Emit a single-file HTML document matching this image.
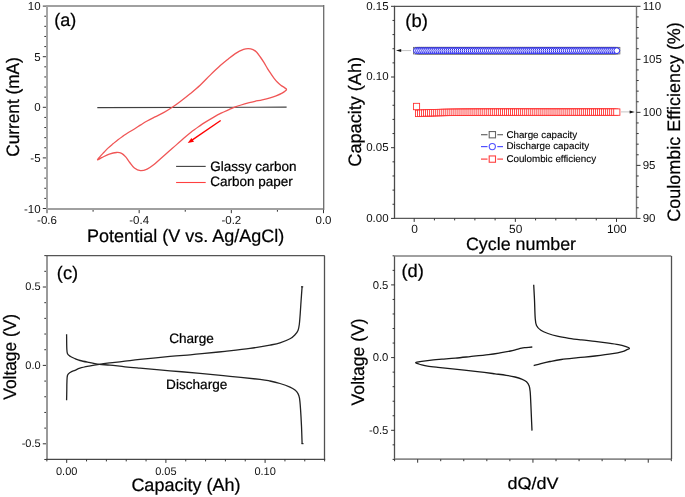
<!DOCTYPE html>
<html><head><meta charset="utf-8"><style>
html,body{margin:0;padding:0;background:#fff;}
body{width:685px;height:497px;overflow:hidden;}
svg{display:block;will-change:transform;}
text{font-family:"Liberation Sans",sans-serif;fill:#111;text-rendering:geometricPrecision;}
text.b{fill:#000;stroke:#000;stroke-width:0.22px;}
text.m{fill:#000;stroke:#000;stroke-width:0.12px;}
</style></head><body>
<svg width="685" height="497" viewBox="0 0 685 497">
<rect width="685" height="497" fill="#fff"/>
<line x1="47.00" y1="6.00" x2="47.00" y2="210.00" stroke="#a6a6a6" stroke-width="2.00"/>
<line x1="46.00" y1="6.00" x2="323.50" y2="6.00" stroke="#a0a0a0" stroke-width="2.00"/>
<line x1="46.00" y1="209.00" x2="323.50" y2="209.00" stroke="#a0a0a0" stroke-width="2.00"/>
<line x1="323.70" y1="5.00" x2="323.70" y2="210.00" stroke="#6a6a6a" stroke-width="1.30"/>
<line x1="42.80" y1="208.50" x2="46.00" y2="208.50" stroke="#333" stroke-width="1.00"/>
<text x="40.60" y="212.60" font-size="11.50" text-anchor="end">-10</text>
<line x1="44.30" y1="198.38" x2="46.00" y2="198.38" stroke="#333" stroke-width="1.00"/>
<line x1="44.30" y1="188.26" x2="46.00" y2="188.26" stroke="#333" stroke-width="1.00"/>
<line x1="44.30" y1="178.14" x2="46.00" y2="178.14" stroke="#333" stroke-width="1.00"/>
<line x1="44.30" y1="168.02" x2="46.00" y2="168.02" stroke="#333" stroke-width="1.00"/>
<line x1="42.80" y1="157.90" x2="46.00" y2="157.90" stroke="#333" stroke-width="1.00"/>
<text x="40.60" y="162.00" font-size="11.50" text-anchor="end">-5</text>
<line x1="44.30" y1="147.78" x2="46.00" y2="147.78" stroke="#333" stroke-width="1.00"/>
<line x1="44.30" y1="137.66" x2="46.00" y2="137.66" stroke="#333" stroke-width="1.00"/>
<line x1="44.30" y1="127.54" x2="46.00" y2="127.54" stroke="#333" stroke-width="1.00"/>
<line x1="44.30" y1="117.42" x2="46.00" y2="117.42" stroke="#333" stroke-width="1.00"/>
<line x1="42.80" y1="107.30" x2="46.00" y2="107.30" stroke="#333" stroke-width="1.00"/>
<text x="40.60" y="111.40" font-size="11.50" text-anchor="end">0</text>
<line x1="44.30" y1="97.18" x2="46.00" y2="97.18" stroke="#333" stroke-width="1.00"/>
<line x1="44.30" y1="87.06" x2="46.00" y2="87.06" stroke="#333" stroke-width="1.00"/>
<line x1="44.30" y1="76.94" x2="46.00" y2="76.94" stroke="#333" stroke-width="1.00"/>
<line x1="44.30" y1="66.82" x2="46.00" y2="66.82" stroke="#333" stroke-width="1.00"/>
<line x1="42.80" y1="56.70" x2="46.00" y2="56.70" stroke="#333" stroke-width="1.00"/>
<text x="40.60" y="60.80" font-size="11.50" text-anchor="end">5</text>
<line x1="44.30" y1="46.58" x2="46.00" y2="46.58" stroke="#333" stroke-width="1.00"/>
<line x1="44.30" y1="36.46" x2="46.00" y2="36.46" stroke="#333" stroke-width="1.00"/>
<line x1="44.30" y1="26.34" x2="46.00" y2="26.34" stroke="#333" stroke-width="1.00"/>
<line x1="44.30" y1="16.22" x2="46.00" y2="16.22" stroke="#333" stroke-width="1.00"/>
<line x1="42.80" y1="6.10" x2="46.00" y2="6.10" stroke="#333" stroke-width="1.00"/>
<text x="40.60" y="10.20" font-size="11.50" text-anchor="end">10</text>
<line x1="47.00" y1="210.00" x2="47.00" y2="213.20" stroke="#333" stroke-width="1.00"/>
<text x="47.00" y="223.90" font-size="11.50" text-anchor="middle">-0.6</text>
<line x1="93.08" y1="210.00" x2="93.08" y2="211.70" stroke="#333" stroke-width="1.00"/>
<line x1="139.17" y1="210.00" x2="139.17" y2="213.20" stroke="#333" stroke-width="1.00"/>
<text x="139.17" y="223.90" font-size="11.50" text-anchor="middle">-0.4</text>
<line x1="185.25" y1="210.00" x2="185.25" y2="211.70" stroke="#333" stroke-width="1.00"/>
<line x1="231.33" y1="210.00" x2="231.33" y2="213.20" stroke="#333" stroke-width="1.00"/>
<text x="231.33" y="223.90" font-size="11.50" text-anchor="middle">-0.2</text>
<line x1="277.42" y1="210.00" x2="277.42" y2="211.70" stroke="#333" stroke-width="1.00"/>
<line x1="323.50" y1="210.00" x2="323.50" y2="213.20" stroke="#333" stroke-width="1.00"/>
<text x="323.50" y="223.90" font-size="11.50" text-anchor="middle">0.0</text>
<text x="54.20" y="26.00" font-size="18.00" text-anchor="start" class="b">(a)</text>
<text class="b" transform="translate(18.80 107.00) rotate(-90)" x="0" y="0" font-size="18.00" text-anchor="middle" textLength="99.5" lengthAdjust="spacingAndGlyphs">Current (mA)</text>
<text x="185.65" y="242.40" font-size="18.00" text-anchor="middle" class="b">Potential (V vs. Ag/AgCl)</text>
<line x1="97.30" y1="107.60" x2="286.60" y2="107.10" stroke="#404040" stroke-width="1.10"/>
<path d="M97.60 159.90 C97.23 159.77 98.93 157.87 100.00 156.60 C101.07 155.33 102.67 153.72 104.00 152.30 C105.33 150.88 106.50 149.52 108.00 148.10 C109.50 146.68 111.33 145.20 113.00 143.80 C114.67 142.40 116.33 140.98 118.00 139.70 C119.67 138.42 121.33 137.27 123.00 136.10 C124.67 134.93 126.17 133.85 128.00 132.70 C129.83 131.55 131.88 130.50 134.00 129.20 C136.12 127.90 138.52 126.27 140.70 124.90 C142.88 123.53 144.72 122.33 147.10 121.00 C149.48 119.67 152.18 118.33 155.00 116.90 C157.82 115.47 161.12 114.00 164.00 112.40 C166.88 110.80 169.63 109.07 172.30 107.30 C174.97 105.53 177.03 104.05 180.00 101.80 C182.97 99.55 186.75 96.57 190.10 93.80 C193.45 91.03 196.75 88.32 200.10 85.20 C203.45 82.08 206.83 78.37 210.20 75.10 C213.57 71.83 217.33 68.25 220.30 65.60 C223.27 62.95 225.50 61.20 228.00 59.20 C230.50 57.20 232.70 55.23 235.30 53.60 C237.90 51.97 241.43 50.23 243.60 49.40 C245.77 48.57 246.73 48.57 248.30 48.60 C249.87 48.63 251.60 48.98 253.00 49.60 C254.40 50.22 255.48 51.07 256.70 52.30 C257.92 53.53 259.10 55.32 260.30 57.00 C261.50 58.68 262.70 60.47 263.90 62.40 C265.10 64.33 266.28 66.63 267.50 68.60 C268.72 70.57 270.07 72.53 271.20 74.20 C272.33 75.87 273.25 77.25 274.30 78.60 C275.35 79.95 276.42 81.20 277.50 82.30 C278.58 83.40 279.65 84.32 280.80 85.20 C281.95 86.08 283.45 86.92 284.40 87.60 C285.35 88.28 286.37 88.73 286.50 89.30 C286.63 89.87 285.93 90.37 285.20 91.00 C284.47 91.63 283.62 92.30 282.10 93.10 C280.58 93.90 278.10 95.02 276.10 95.80 C274.10 96.58 272.42 97.13 270.10 97.80 C267.78 98.47 264.72 99.22 262.20 99.80 C259.68 100.38 257.17 100.82 255.00 101.30 C252.83 101.78 251.52 102.08 249.20 102.70 C246.88 103.32 243.52 104.25 241.10 105.00 C238.68 105.75 236.70 106.43 234.70 107.20 C232.70 107.97 231.37 108.60 229.10 109.60 C226.83 110.60 223.78 111.87 221.10 113.20 C218.42 114.53 215.68 116.07 213.00 117.60 C210.32 119.13 207.20 121.02 205.00 122.40 C202.80 123.78 202.13 124.25 199.80 125.90 C197.47 127.55 193.77 130.15 191.00 132.30 C188.23 134.45 186.35 136.08 183.20 138.80 C180.05 141.52 175.78 145.37 172.10 148.60 C168.42 151.83 164.12 155.55 161.10 158.20 C158.08 160.85 156.33 162.68 154.00 164.50 C151.67 166.32 149.35 168.07 147.10 169.10 C144.85 170.13 142.62 170.87 140.50 170.70 C138.38 170.53 136.18 169.47 134.40 168.10 C132.62 166.73 131.25 164.37 129.80 162.50 C128.35 160.63 127.07 158.43 125.70 156.90 C124.33 155.37 123.13 154.03 121.60 153.30 C120.07 152.57 118.55 152.37 116.50 152.50 C114.45 152.63 111.68 153.28 109.30 154.10 C106.92 154.92 104.15 156.43 102.20 157.40 C100.25 158.37 97.97 160.03 97.60 159.90Z" fill="none" stroke="#f05656" stroke-width="1.3" stroke-linejoin="round"/>
<line x1="220.70" y1="120.50" x2="192.00" y2="140.10" stroke="#ff0000" stroke-width="1.35"/>
<path d="M187.7 143.1 L191.4 137.9 L194.0 141.7 Z" fill="#ff0000"/>
<line x1="176.10" y1="166.40" x2="205.70" y2="166.40" stroke="#404040" stroke-width="1.10"/>
<line x1="176.10" y1="182.50" x2="205.70" y2="182.50" stroke="#ff4040" stroke-width="1.10"/>
<text x="210.30" y="170.60" font-size="13.50" text-anchor="start" class="b">Glassy carbon</text>
<text x="210.30" y="186.40" font-size="13.50" text-anchor="start" class="b">Carbon paper</text>
<line x1="394.50" y1="5.80" x2="394.50" y2="218.90" stroke="#4a4a4a" stroke-width="1.30"/>
<line x1="394.50" y1="6.40" x2="636.50" y2="6.40" stroke="#555" stroke-width="1.20"/>
<line x1="394.50" y1="218.40" x2="636.50" y2="218.40" stroke="#5a5a5a" stroke-width="1.40"/>
<line x1="636.50" y1="6.30" x2="636.50" y2="218.90" stroke="#777" stroke-width="1.40"/>
<line x1="391.00" y1="218.40" x2="394.50" y2="218.40" stroke="#333" stroke-width="1.00"/>
<text x="388.60" y="221.60" font-size="11.50" text-anchor="end">0.00</text>
<line x1="392.50" y1="204.26" x2="394.50" y2="204.26" stroke="#333" stroke-width="1.00"/>
<line x1="392.50" y1="190.12" x2="394.50" y2="190.12" stroke="#333" stroke-width="1.00"/>
<line x1="392.50" y1="175.98" x2="394.50" y2="175.98" stroke="#333" stroke-width="1.00"/>
<line x1="392.50" y1="161.84" x2="394.50" y2="161.84" stroke="#333" stroke-width="1.00"/>
<line x1="391.00" y1="147.70" x2="394.50" y2="147.70" stroke="#333" stroke-width="1.00"/>
<text x="388.60" y="150.90" font-size="11.50" text-anchor="end">0.05</text>
<line x1="392.50" y1="133.56" x2="394.50" y2="133.56" stroke="#333" stroke-width="1.00"/>
<line x1="392.50" y1="119.42" x2="394.50" y2="119.42" stroke="#333" stroke-width="1.00"/>
<line x1="392.50" y1="105.28" x2="394.50" y2="105.28" stroke="#333" stroke-width="1.00"/>
<line x1="392.50" y1="91.14" x2="394.50" y2="91.14" stroke="#333" stroke-width="1.00"/>
<line x1="391.00" y1="77.00" x2="394.50" y2="77.00" stroke="#333" stroke-width="1.00"/>
<text x="388.60" y="80.20" font-size="11.50" text-anchor="end">0.10</text>
<line x1="392.50" y1="62.86" x2="394.50" y2="62.86" stroke="#333" stroke-width="1.00"/>
<line x1="392.50" y1="48.72" x2="394.50" y2="48.72" stroke="#333" stroke-width="1.00"/>
<line x1="392.50" y1="34.58" x2="394.50" y2="34.58" stroke="#333" stroke-width="1.00"/>
<line x1="392.50" y1="20.44" x2="394.50" y2="20.44" stroke="#333" stroke-width="1.00"/>
<line x1="391.00" y1="6.30" x2="394.50" y2="6.30" stroke="#333" stroke-width="1.00"/>
<text x="388.60" y="9.50" font-size="11.50" text-anchor="end">0.15</text>
<line x1="636.50" y1="218.40" x2="640.50" y2="218.40" stroke="#333" stroke-width="1.00"/>
<text x="642.70" y="222.10" font-size="11.50" text-anchor="start">90</text>
<line x1="636.50" y1="207.80" x2="638.70" y2="207.80" stroke="#333" stroke-width="1.00"/>
<line x1="636.50" y1="197.19" x2="638.70" y2="197.19" stroke="#333" stroke-width="1.00"/>
<line x1="636.50" y1="186.59" x2="638.70" y2="186.59" stroke="#333" stroke-width="1.00"/>
<line x1="636.50" y1="175.98" x2="638.70" y2="175.98" stroke="#333" stroke-width="1.00"/>
<line x1="636.50" y1="165.38" x2="640.50" y2="165.38" stroke="#333" stroke-width="1.00"/>
<text x="642.70" y="169.07" font-size="11.50" text-anchor="start">95</text>
<line x1="636.50" y1="154.77" x2="638.70" y2="154.77" stroke="#333" stroke-width="1.00"/>
<line x1="636.50" y1="144.17" x2="638.70" y2="144.17" stroke="#333" stroke-width="1.00"/>
<line x1="636.50" y1="133.56" x2="638.70" y2="133.56" stroke="#333" stroke-width="1.00"/>
<line x1="636.50" y1="122.96" x2="638.70" y2="122.96" stroke="#333" stroke-width="1.00"/>
<line x1="636.50" y1="112.35" x2="640.50" y2="112.35" stroke="#333" stroke-width="1.00"/>
<text x="642.70" y="116.05" font-size="11.50" text-anchor="start">100</text>
<line x1="636.50" y1="101.75" x2="638.70" y2="101.75" stroke="#333" stroke-width="1.00"/>
<line x1="636.50" y1="91.14" x2="638.70" y2="91.14" stroke="#333" stroke-width="1.00"/>
<line x1="636.50" y1="80.53" x2="638.70" y2="80.53" stroke="#333" stroke-width="1.00"/>
<line x1="636.50" y1="69.93" x2="638.70" y2="69.93" stroke="#333" stroke-width="1.00"/>
<line x1="636.50" y1="59.33" x2="640.50" y2="59.33" stroke="#333" stroke-width="1.00"/>
<text x="642.70" y="63.03" font-size="11.50" text-anchor="start">105</text>
<line x1="636.50" y1="48.72" x2="638.70" y2="48.72" stroke="#333" stroke-width="1.00"/>
<line x1="636.50" y1="38.12" x2="638.70" y2="38.12" stroke="#333" stroke-width="1.00"/>
<line x1="636.50" y1="27.51" x2="638.70" y2="27.51" stroke="#333" stroke-width="1.00"/>
<line x1="636.50" y1="16.91" x2="638.70" y2="16.91" stroke="#333" stroke-width="1.00"/>
<line x1="636.50" y1="6.30" x2="640.50" y2="6.30" stroke="#333" stroke-width="1.00"/>
<text x="642.70" y="10.00" font-size="11.50" text-anchor="start">110</text>
<line x1="414.20" y1="218.40" x2="414.20" y2="221.90" stroke="#333" stroke-width="1.00"/>
<text x="414.50" y="233.20" font-size="11.90" text-anchor="middle">0</text>
<line x1="434.43" y1="218.40" x2="434.43" y2="220.40" stroke="#333" stroke-width="1.00"/>
<line x1="454.66" y1="218.40" x2="454.66" y2="220.40" stroke="#333" stroke-width="1.00"/>
<line x1="474.89" y1="218.40" x2="474.89" y2="220.40" stroke="#333" stroke-width="1.00"/>
<line x1="495.12" y1="218.40" x2="495.12" y2="220.40" stroke="#333" stroke-width="1.00"/>
<line x1="515.35" y1="218.40" x2="515.35" y2="221.90" stroke="#333" stroke-width="1.00"/>
<text x="515.65" y="233.20" font-size="11.90" text-anchor="middle">50</text>
<line x1="535.58" y1="218.40" x2="535.58" y2="220.40" stroke="#333" stroke-width="1.00"/>
<line x1="555.81" y1="218.40" x2="555.81" y2="220.40" stroke="#333" stroke-width="1.00"/>
<line x1="576.04" y1="218.40" x2="576.04" y2="220.40" stroke="#333" stroke-width="1.00"/>
<line x1="596.27" y1="218.40" x2="596.27" y2="220.40" stroke="#333" stroke-width="1.00"/>
<line x1="616.50" y1="218.40" x2="616.50" y2="221.90" stroke="#333" stroke-width="1.00"/>
<text x="616.80" y="233.20" font-size="11.90" text-anchor="middle">100</text>
<text x="405.30" y="26.80" font-size="18.40" text-anchor="start" class="b">(b)</text>
<text class="b" transform="translate(361.30 111.80) rotate(-90)" x="0" y="0" font-size="18.00" text-anchor="middle" textLength="109.7" lengthAdjust="spacingAndGlyphs">Capacity (Ah)</text>
<text class="b" transform="translate(679.50 121.90) rotate(-90)" x="0" y="0" font-size="18.00" text-anchor="middle" textLength="199.5" lengthAdjust="spacingAndGlyphs">Coulombic Efficiency (%)</text>
<text x="521.00" y="250.40" font-size="17.85" text-anchor="middle" class="b">Cycle number</text>
<line x1="401.00" y1="50.60" x2="411.00" y2="50.60" stroke="#c4c4c4" stroke-width="1.00"/>
<path d="M396.0 50.6 L401.2 49.1 L401.2 52.1 Z" fill="#111"/>
<line x1="621.00" y1="111.90" x2="630.30" y2="111.90" stroke="#c4c4c4" stroke-width="1.00"/>
<path d="M634.8 111.9 L629.6 110.4 L629.6 113.4 Z" fill="#111"/>
<g fill="none" stroke="#666" stroke-width="0.8"><rect x="413.42" y="47.35" width="6.2" height="6.6"/><rect x="415.45" y="47.35" width="6.2" height="6.6"/><rect x="417.47" y="47.35" width="6.2" height="6.6"/><rect x="419.49" y="47.35" width="6.2" height="6.6"/><rect x="421.51" y="47.35" width="6.2" height="6.6"/><rect x="423.54" y="47.35" width="6.2" height="6.6"/><rect x="425.56" y="47.35" width="6.2" height="6.6"/><rect x="427.58" y="47.35" width="6.2" height="6.6"/><rect x="429.61" y="47.35" width="6.2" height="6.6"/><rect x="431.63" y="47.35" width="6.2" height="6.6"/><rect x="433.65" y="47.35" width="6.2" height="6.6"/><rect x="435.68" y="47.35" width="6.2" height="6.6"/><rect x="437.70" y="47.35" width="6.2" height="6.6"/><rect x="439.72" y="47.35" width="6.2" height="6.6"/><rect x="441.75" y="47.35" width="6.2" height="6.6"/><rect x="443.77" y="47.35" width="6.2" height="6.6"/><rect x="445.79" y="47.35" width="6.2" height="6.6"/><rect x="447.81" y="47.35" width="6.2" height="6.6"/><rect x="449.84" y="47.35" width="6.2" height="6.6"/><rect x="451.86" y="47.35" width="6.2" height="6.6"/><rect x="453.88" y="47.35" width="6.2" height="6.6"/><rect x="455.91" y="47.35" width="6.2" height="6.6"/><rect x="457.93" y="47.35" width="6.2" height="6.6"/><rect x="459.95" y="47.35" width="6.2" height="6.6"/><rect x="461.97" y="47.35" width="6.2" height="6.6"/><rect x="464.00" y="47.35" width="6.2" height="6.6"/><rect x="466.02" y="47.35" width="6.2" height="6.6"/><rect x="468.04" y="47.35" width="6.2" height="6.6"/><rect x="470.07" y="47.35" width="6.2" height="6.6"/><rect x="472.09" y="47.35" width="6.2" height="6.6"/><rect x="474.11" y="47.35" width="6.2" height="6.6"/><rect x="476.14" y="47.35" width="6.2" height="6.6"/><rect x="478.16" y="47.35" width="6.2" height="6.6"/><rect x="480.18" y="47.35" width="6.2" height="6.6"/><rect x="482.20" y="47.35" width="6.2" height="6.6"/><rect x="484.23" y="47.35" width="6.2" height="6.6"/><rect x="486.25" y="47.35" width="6.2" height="6.6"/><rect x="488.27" y="47.35" width="6.2" height="6.6"/><rect x="490.30" y="47.35" width="6.2" height="6.6"/><rect x="492.32" y="47.35" width="6.2" height="6.6"/><rect x="494.34" y="47.35" width="6.2" height="6.6"/><rect x="496.37" y="47.35" width="6.2" height="6.6"/><rect x="498.39" y="47.35" width="6.2" height="6.6"/><rect x="500.41" y="47.35" width="6.2" height="6.6"/><rect x="502.44" y="47.35" width="6.2" height="6.6"/><rect x="504.46" y="47.35" width="6.2" height="6.6"/><rect x="506.48" y="47.35" width="6.2" height="6.6"/><rect x="508.50" y="47.35" width="6.2" height="6.6"/><rect x="510.53" y="47.35" width="6.2" height="6.6"/><rect x="512.55" y="47.35" width="6.2" height="6.6"/><rect x="514.57" y="47.35" width="6.2" height="6.6"/><rect x="516.60" y="47.35" width="6.2" height="6.6"/><rect x="518.62" y="47.35" width="6.2" height="6.6"/><rect x="520.64" y="47.35" width="6.2" height="6.6"/><rect x="522.66" y="47.35" width="6.2" height="6.6"/><rect x="524.69" y="47.35" width="6.2" height="6.6"/><rect x="526.71" y="47.35" width="6.2" height="6.6"/><rect x="528.73" y="47.35" width="6.2" height="6.6"/><rect x="530.76" y="47.35" width="6.2" height="6.6"/><rect x="532.78" y="47.35" width="6.2" height="6.6"/><rect x="534.80" y="47.35" width="6.2" height="6.6"/><rect x="536.83" y="47.35" width="6.2" height="6.6"/><rect x="538.85" y="47.35" width="6.2" height="6.6"/><rect x="540.87" y="47.35" width="6.2" height="6.6"/><rect x="542.89" y="47.35" width="6.2" height="6.6"/><rect x="544.92" y="47.35" width="6.2" height="6.6"/><rect x="546.94" y="47.35" width="6.2" height="6.6"/><rect x="548.96" y="47.35" width="6.2" height="6.6"/><rect x="550.99" y="47.35" width="6.2" height="6.6"/><rect x="553.01" y="47.35" width="6.2" height="6.6"/><rect x="555.03" y="47.35" width="6.2" height="6.6"/><rect x="557.06" y="47.35" width="6.2" height="6.6"/><rect x="559.08" y="47.35" width="6.2" height="6.6"/><rect x="561.10" y="47.35" width="6.2" height="6.6"/><rect x="563.12" y="47.35" width="6.2" height="6.6"/><rect x="565.15" y="47.35" width="6.2" height="6.6"/><rect x="567.17" y="47.35" width="6.2" height="6.6"/><rect x="569.19" y="47.35" width="6.2" height="6.6"/><rect x="571.22" y="47.35" width="6.2" height="6.6"/><rect x="573.24" y="47.35" width="6.2" height="6.6"/><rect x="575.26" y="47.35" width="6.2" height="6.6"/><rect x="577.29" y="47.35" width="6.2" height="6.6"/><rect x="579.31" y="47.35" width="6.2" height="6.6"/><rect x="581.33" y="47.35" width="6.2" height="6.6"/><rect x="583.35" y="47.35" width="6.2" height="6.6"/><rect x="585.38" y="47.35" width="6.2" height="6.6"/><rect x="587.40" y="47.35" width="6.2" height="6.6"/><rect x="589.42" y="47.35" width="6.2" height="6.6"/><rect x="591.45" y="47.35" width="6.2" height="6.6"/><rect x="593.47" y="47.35" width="6.2" height="6.6"/><rect x="595.49" y="47.35" width="6.2" height="6.6"/><rect x="597.52" y="47.35" width="6.2" height="6.6"/><rect x="599.54" y="47.35" width="6.2" height="6.6"/><rect x="601.56" y="47.35" width="6.2" height="6.6"/><rect x="603.58" y="47.35" width="6.2" height="6.6"/><rect x="605.61" y="47.35" width="6.2" height="6.6"/><rect x="607.63" y="47.35" width="6.2" height="6.6"/><rect x="609.65" y="47.35" width="6.2" height="6.6"/><rect x="611.68" y="47.35" width="6.2" height="6.6"/><rect x="613.70" y="47.35" width="6.2" height="6.6"/></g>
<g fill="#fff" stroke="#2020f0" stroke-width="1"><circle cx="416.52" cy="50.65" r="2.9"/><circle cx="418.55" cy="50.65" r="2.9"/><circle cx="420.57" cy="50.65" r="2.9"/><circle cx="422.59" cy="50.65" r="2.9"/><circle cx="424.62" cy="50.65" r="2.9"/><circle cx="426.64" cy="50.65" r="2.9"/><circle cx="428.66" cy="50.65" r="2.9"/><circle cx="430.68" cy="50.65" r="2.9"/><circle cx="432.71" cy="50.65" r="2.9"/><circle cx="434.73" cy="50.65" r="2.9"/><circle cx="436.75" cy="50.65" r="2.9"/><circle cx="438.78" cy="50.65" r="2.9"/><circle cx="440.80" cy="50.65" r="2.9"/><circle cx="442.82" cy="50.65" r="2.9"/><circle cx="444.85" cy="50.65" r="2.9"/><circle cx="446.87" cy="50.65" r="2.9"/><circle cx="448.89" cy="50.65" r="2.9"/><circle cx="450.91" cy="50.65" r="2.9"/><circle cx="452.94" cy="50.65" r="2.9"/><circle cx="454.96" cy="50.65" r="2.9"/><circle cx="456.98" cy="50.65" r="2.9"/><circle cx="459.01" cy="50.65" r="2.9"/><circle cx="461.03" cy="50.65" r="2.9"/><circle cx="463.05" cy="50.65" r="2.9"/><circle cx="465.07" cy="50.65" r="2.9"/><circle cx="467.10" cy="50.65" r="2.9"/><circle cx="469.12" cy="50.65" r="2.9"/><circle cx="471.14" cy="50.65" r="2.9"/><circle cx="473.17" cy="50.65" r="2.9"/><circle cx="475.19" cy="50.65" r="2.9"/><circle cx="477.21" cy="50.65" r="2.9"/><circle cx="479.24" cy="50.65" r="2.9"/><circle cx="481.26" cy="50.65" r="2.9"/><circle cx="483.28" cy="50.65" r="2.9"/><circle cx="485.31" cy="50.65" r="2.9"/><circle cx="487.33" cy="50.65" r="2.9"/><circle cx="489.35" cy="50.65" r="2.9"/><circle cx="491.37" cy="50.65" r="2.9"/><circle cx="493.40" cy="50.65" r="2.9"/><circle cx="495.42" cy="50.65" r="2.9"/><circle cx="497.44" cy="50.65" r="2.9"/><circle cx="499.47" cy="50.65" r="2.9"/><circle cx="501.49" cy="50.65" r="2.9"/><circle cx="503.51" cy="50.65" r="2.9"/><circle cx="505.54" cy="50.65" r="2.9"/><circle cx="507.56" cy="50.65" r="2.9"/><circle cx="509.58" cy="50.65" r="2.9"/><circle cx="511.60" cy="50.65" r="2.9"/><circle cx="513.63" cy="50.65" r="2.9"/><circle cx="515.65" cy="50.65" r="2.9"/><circle cx="517.67" cy="50.65" r="2.9"/><circle cx="519.70" cy="50.65" r="2.9"/><circle cx="521.72" cy="50.65" r="2.9"/><circle cx="523.74" cy="50.65" r="2.9"/><circle cx="525.76" cy="50.65" r="2.9"/><circle cx="527.79" cy="50.65" r="2.9"/><circle cx="529.81" cy="50.65" r="2.9"/><circle cx="531.83" cy="50.65" r="2.9"/><circle cx="533.86" cy="50.65" r="2.9"/><circle cx="535.88" cy="50.65" r="2.9"/><circle cx="537.90" cy="50.65" r="2.9"/><circle cx="539.93" cy="50.65" r="2.9"/><circle cx="541.95" cy="50.65" r="2.9"/><circle cx="543.97" cy="50.65" r="2.9"/><circle cx="545.99" cy="50.65" r="2.9"/><circle cx="548.02" cy="50.65" r="2.9"/><circle cx="550.04" cy="50.65" r="2.9"/><circle cx="552.06" cy="50.65" r="2.9"/><circle cx="554.09" cy="50.65" r="2.9"/><circle cx="556.11" cy="50.65" r="2.9"/><circle cx="558.13" cy="50.65" r="2.9"/><circle cx="560.16" cy="50.65" r="2.9"/><circle cx="562.18" cy="50.65" r="2.9"/><circle cx="564.20" cy="50.65" r="2.9"/><circle cx="566.22" cy="50.65" r="2.9"/><circle cx="568.25" cy="50.65" r="2.9"/><circle cx="570.27" cy="50.65" r="2.9"/><circle cx="572.29" cy="50.65" r="2.9"/><circle cx="574.32" cy="50.65" r="2.9"/><circle cx="576.34" cy="50.65" r="2.9"/><circle cx="578.36" cy="50.65" r="2.9"/><circle cx="580.39" cy="50.65" r="2.9"/><circle cx="582.41" cy="50.65" r="2.9"/><circle cx="584.43" cy="50.65" r="2.9"/><circle cx="586.45" cy="50.65" r="2.9"/><circle cx="588.48" cy="50.65" r="2.9"/><circle cx="590.50" cy="50.65" r="2.9"/><circle cx="592.52" cy="50.65" r="2.9"/><circle cx="594.55" cy="50.65" r="2.9"/><circle cx="596.57" cy="50.65" r="2.9"/><circle cx="598.59" cy="50.65" r="2.9"/><circle cx="600.62" cy="50.65" r="2.9"/><circle cx="602.64" cy="50.65" r="2.9"/><circle cx="604.66" cy="50.65" r="2.9"/><circle cx="606.68" cy="50.65" r="2.9"/><circle cx="608.71" cy="50.65" r="2.9"/><circle cx="610.73" cy="50.65" r="2.9"/><circle cx="612.75" cy="50.65" r="2.9"/><circle cx="614.78" cy="50.65" r="2.9"/><circle cx="616.80" cy="50.65" r="2.9"/></g>
<g fill="#fff" stroke="#ff2a2a" stroke-width="0.85"><rect x="413.42" y="103.32" width="6.2" height="6.4"/><rect x="415.45" y="110.20" width="6.2" height="6.4"/><rect x="417.47" y="110.08" width="6.2" height="6.4"/><rect x="419.49" y="109.96" width="6.2" height="6.4"/><rect x="421.51" y="109.86" width="6.2" height="6.4"/><rect x="423.54" y="109.77" width="6.2" height="6.4"/><rect x="425.56" y="109.69" width="6.2" height="6.4"/><rect x="427.58" y="109.61" width="6.2" height="6.4"/><rect x="429.61" y="109.55" width="6.2" height="6.4"/><rect x="431.63" y="109.48" width="6.2" height="6.4"/><rect x="433.65" y="109.43" width="6.2" height="6.4"/><rect x="435.68" y="109.38" width="6.2" height="6.4"/><rect x="437.70" y="109.33" width="6.2" height="6.4"/><rect x="439.72" y="109.29" width="6.2" height="6.4"/><rect x="441.75" y="109.25" width="6.2" height="6.4"/><rect x="443.77" y="109.22" width="6.2" height="6.4"/><rect x="445.79" y="109.19" width="6.2" height="6.4"/><rect x="447.81" y="109.16" width="6.2" height="6.4"/><rect x="449.84" y="109.14" width="6.2" height="6.4"/><rect x="451.86" y="109.11" width="6.2" height="6.4"/><rect x="453.88" y="109.09" width="6.2" height="6.4"/><rect x="455.91" y="109.08" width="6.2" height="6.4"/><rect x="457.93" y="109.06" width="6.2" height="6.4"/><rect x="459.95" y="109.04" width="6.2" height="6.4"/><rect x="461.97" y="109.03" width="6.2" height="6.4"/><rect x="464.00" y="109.02" width="6.2" height="6.4"/><rect x="466.02" y="109.01" width="6.2" height="6.4"/><rect x="468.04" y="109.00" width="6.2" height="6.4"/><rect x="470.07" y="108.99" width="6.2" height="6.4"/><rect x="472.09" y="108.98" width="6.2" height="6.4"/><rect x="474.11" y="108.97" width="6.2" height="6.4"/><rect x="476.14" y="108.96" width="6.2" height="6.4"/><rect x="478.16" y="108.96" width="6.2" height="6.4"/><rect x="480.18" y="108.95" width="6.2" height="6.4"/><rect x="482.20" y="108.95" width="6.2" height="6.4"/><rect x="484.23" y="108.94" width="6.2" height="6.4"/><rect x="486.25" y="108.94" width="6.2" height="6.4"/><rect x="488.27" y="108.94" width="6.2" height="6.4"/><rect x="490.30" y="108.93" width="6.2" height="6.4"/><rect x="492.32" y="108.93" width="6.2" height="6.4"/><rect x="494.34" y="108.93" width="6.2" height="6.4"/><rect x="496.37" y="108.92" width="6.2" height="6.4"/><rect x="498.39" y="108.92" width="6.2" height="6.4"/><rect x="500.41" y="108.92" width="6.2" height="6.4"/><rect x="502.44" y="108.92" width="6.2" height="6.4"/><rect x="504.46" y="108.92" width="6.2" height="6.4"/><rect x="506.48" y="108.91" width="6.2" height="6.4"/><rect x="508.50" y="108.91" width="6.2" height="6.4"/><rect x="510.53" y="108.91" width="6.2" height="6.4"/><rect x="512.55" y="108.91" width="6.2" height="6.4"/><rect x="514.57" y="108.91" width="6.2" height="6.4"/><rect x="516.60" y="108.91" width="6.2" height="6.4"/><rect x="518.62" y="108.91" width="6.2" height="6.4"/><rect x="520.64" y="108.91" width="6.2" height="6.4"/><rect x="522.66" y="108.91" width="6.2" height="6.4"/><rect x="524.69" y="108.91" width="6.2" height="6.4"/><rect x="526.71" y="108.91" width="6.2" height="6.4"/><rect x="528.73" y="108.90" width="6.2" height="6.4"/><rect x="530.76" y="108.90" width="6.2" height="6.4"/><rect x="532.78" y="108.90" width="6.2" height="6.4"/><rect x="534.80" y="108.90" width="6.2" height="6.4"/><rect x="536.83" y="108.90" width="6.2" height="6.4"/><rect x="538.85" y="108.90" width="6.2" height="6.4"/><rect x="540.87" y="108.90" width="6.2" height="6.4"/><rect x="542.89" y="108.90" width="6.2" height="6.4"/><rect x="544.92" y="108.90" width="6.2" height="6.4"/><rect x="546.94" y="108.90" width="6.2" height="6.4"/><rect x="548.96" y="108.90" width="6.2" height="6.4"/><rect x="550.99" y="108.90" width="6.2" height="6.4"/><rect x="553.01" y="108.90" width="6.2" height="6.4"/><rect x="555.03" y="108.90" width="6.2" height="6.4"/><rect x="557.06" y="108.90" width="6.2" height="6.4"/><rect x="559.08" y="108.90" width="6.2" height="6.4"/><rect x="561.10" y="108.90" width="6.2" height="6.4"/><rect x="563.12" y="108.90" width="6.2" height="6.4"/><rect x="565.15" y="108.90" width="6.2" height="6.4"/><rect x="567.17" y="108.90" width="6.2" height="6.4"/><rect x="569.19" y="108.90" width="6.2" height="6.4"/><rect x="571.22" y="108.90" width="6.2" height="6.4"/><rect x="573.24" y="108.90" width="6.2" height="6.4"/><rect x="575.26" y="108.90" width="6.2" height="6.4"/><rect x="577.29" y="108.90" width="6.2" height="6.4"/><rect x="579.31" y="108.90" width="6.2" height="6.4"/><rect x="581.33" y="108.90" width="6.2" height="6.4"/><rect x="583.35" y="108.90" width="6.2" height="6.4"/><rect x="585.38" y="108.90" width="6.2" height="6.4"/><rect x="587.40" y="108.90" width="6.2" height="6.4"/><rect x="589.42" y="108.90" width="6.2" height="6.4"/><rect x="591.45" y="108.90" width="6.2" height="6.4"/><rect x="593.47" y="108.90" width="6.2" height="6.4"/><rect x="595.49" y="108.90" width="6.2" height="6.4"/><rect x="597.52" y="108.90" width="6.2" height="6.4"/><rect x="599.54" y="108.90" width="6.2" height="6.4"/><rect x="601.56" y="108.90" width="6.2" height="6.4"/><rect x="603.58" y="108.90" width="6.2" height="6.4"/><rect x="605.61" y="108.90" width="6.2" height="6.4"/><rect x="607.63" y="108.90" width="6.2" height="6.4"/><rect x="609.65" y="108.90" width="6.2" height="6.4"/><rect x="611.68" y="108.90" width="6.2" height="6.4"/><rect x="613.70" y="108.90" width="6.2" height="6.4"/></g>
<line x1="481.00" y1="134.70" x2="487.50" y2="134.70" stroke="#666" stroke-width="1.20"/>
<line x1="497.30" y1="134.70" x2="503.00" y2="134.70" stroke="#666" stroke-width="1.20"/>
<rect x="489.2" y="131.55" width="6.3" height="6.3" fill="#fff" stroke="#666" stroke-width="1.1"/>
<line x1="481.00" y1="146.60" x2="487.50" y2="146.60" stroke="#5050ff" stroke-width="1.20"/>
<line x1="497.30" y1="146.60" x2="503.00" y2="146.60" stroke="#5050ff" stroke-width="1.20"/>
<circle cx="492.3" cy="146.60" r="3.1" fill="#fff" stroke="#5050ff" stroke-width="1.1"/>
<line x1="481.00" y1="159.10" x2="487.50" y2="159.10" stroke="#ff4040" stroke-width="1.20"/>
<line x1="497.30" y1="159.10" x2="503.00" y2="159.10" stroke="#ff4040" stroke-width="1.20"/>
<rect x="489.2" y="155.95" width="6.3" height="6.3" fill="#fff" stroke="#ff4040" stroke-width="1.1"/>
<text x="506.40" y="137.50" font-size="9.80" text-anchor="start" class="m">Charge capacity</text>
<text x="506.40" y="149.40" font-size="9.80" text-anchor="start" class="m">Discharge capacity</text>
<text x="506.40" y="161.70" font-size="9.80" text-anchor="start" class="m">Coulombic efficiency</text>
<line x1="47.00" y1="255.70" x2="47.00" y2="459.40" stroke="#9a9a9a" stroke-width="2.00"/>
<line x1="46.00" y1="255.70" x2="324.70" y2="255.70" stroke="#555" stroke-width="1.20"/>
<line x1="46.00" y1="459.40" x2="325.20" y2="459.40" stroke="#474747" stroke-width="1.20"/>
<line x1="324.50" y1="255.70" x2="324.50" y2="459.40" stroke="#505050" stroke-width="1.30"/>
<line x1="44.30" y1="459.48" x2="46.00" y2="459.48" stroke="#333" stroke-width="1.00"/>
<line x1="42.80" y1="443.80" x2="46.00" y2="443.80" stroke="#333" stroke-width="1.00"/>
<text x="40.60" y="447.10" font-size="11.00" text-anchor="end">-0.5</text>
<line x1="44.30" y1="428.12" x2="46.00" y2="428.12" stroke="#333" stroke-width="1.00"/>
<line x1="44.30" y1="412.44" x2="46.00" y2="412.44" stroke="#333" stroke-width="1.00"/>
<line x1="44.30" y1="396.76" x2="46.00" y2="396.76" stroke="#333" stroke-width="1.00"/>
<line x1="44.30" y1="381.08" x2="46.00" y2="381.08" stroke="#333" stroke-width="1.00"/>
<line x1="42.80" y1="365.40" x2="46.00" y2="365.40" stroke="#333" stroke-width="1.00"/>
<text x="40.60" y="368.70" font-size="11.00" text-anchor="end">0.0</text>
<line x1="44.30" y1="349.72" x2="46.00" y2="349.72" stroke="#333" stroke-width="1.00"/>
<line x1="44.30" y1="334.04" x2="46.00" y2="334.04" stroke="#333" stroke-width="1.00"/>
<line x1="44.30" y1="318.36" x2="46.00" y2="318.36" stroke="#333" stroke-width="1.00"/>
<line x1="44.30" y1="302.68" x2="46.00" y2="302.68" stroke="#333" stroke-width="1.00"/>
<line x1="42.80" y1="287.00" x2="46.00" y2="287.00" stroke="#333" stroke-width="1.00"/>
<text x="40.60" y="290.30" font-size="11.00" text-anchor="end">0.5</text>
<line x1="44.30" y1="271.32" x2="46.00" y2="271.32" stroke="#333" stroke-width="1.00"/>
<line x1="44.30" y1="255.64" x2="46.00" y2="255.64" stroke="#333" stroke-width="1.00"/>
<line x1="46.86" y1="459.40" x2="46.86" y2="461.40" stroke="#333" stroke-width="1.00"/>
<line x1="66.70" y1="459.40" x2="66.70" y2="462.90" stroke="#333" stroke-width="1.00"/>
<text x="66.70" y="474.90" font-size="11.00" text-anchor="middle">0.00</text>
<line x1="86.54" y1="459.40" x2="86.54" y2="461.40" stroke="#333" stroke-width="1.00"/>
<line x1="106.38" y1="459.40" x2="106.38" y2="461.40" stroke="#333" stroke-width="1.00"/>
<line x1="126.22" y1="459.40" x2="126.22" y2="461.40" stroke="#333" stroke-width="1.00"/>
<line x1="146.06" y1="459.40" x2="146.06" y2="461.40" stroke="#333" stroke-width="1.00"/>
<line x1="165.90" y1="459.40" x2="165.90" y2="462.90" stroke="#333" stroke-width="1.00"/>
<text x="165.90" y="474.90" font-size="11.00" text-anchor="middle">0.05</text>
<line x1="185.74" y1="459.40" x2="185.74" y2="461.40" stroke="#333" stroke-width="1.00"/>
<line x1="205.58" y1="459.40" x2="205.58" y2="461.40" stroke="#333" stroke-width="1.00"/>
<line x1="225.42" y1="459.40" x2="225.42" y2="461.40" stroke="#333" stroke-width="1.00"/>
<line x1="245.26" y1="459.40" x2="245.26" y2="461.40" stroke="#333" stroke-width="1.00"/>
<line x1="265.10" y1="459.40" x2="265.10" y2="462.90" stroke="#333" stroke-width="1.00"/>
<text x="265.10" y="474.90" font-size="11.00" text-anchor="middle">0.10</text>
<line x1="284.94" y1="459.40" x2="284.94" y2="461.40" stroke="#333" stroke-width="1.00"/>
<line x1="304.78" y1="459.40" x2="304.78" y2="461.40" stroke="#333" stroke-width="1.00"/>
<line x1="324.62" y1="459.40" x2="324.62" y2="461.40" stroke="#333" stroke-width="1.00"/>
<text x="56.80" y="279.30" font-size="18.30" text-anchor="start" class="b">(c)</text>
<text class="b" transform="translate(15.60 356.85) rotate(-90)" x="0" y="0" font-size="18.00" text-anchor="middle" textLength="85.7" lengthAdjust="spacingAndGlyphs">Voltage (V)</text>
<text x="185.90" y="491.20" font-size="18.00" text-anchor="middle" class="b">Capacity (Ah)</text>
<text x="169.20" y="343.30" font-size="13.60" text-anchor="start" class="b">Charge</text>
<text x="166.10" y="389.30" font-size="13.60" text-anchor="start" class="b">Discharge</text>
<path d="M66.60 400.20 C66.63 398.50 66.75 392.90 66.80 390.00 C66.85 387.10 66.78 385.25 66.90 382.80 C67.02 380.35 66.90 377.07 67.50 375.30 C68.10 373.53 69.25 373.03 70.50 372.20 C71.75 371.37 73.42 370.98 75.00 370.30 C76.58 369.62 77.67 368.80 80.00 368.10 C82.33 367.40 85.78 366.73 89.00 366.10 C92.22 365.47 95.80 364.83 99.30 364.30 C102.80 363.77 105.72 363.42 110.00 362.90 C114.28 362.38 120.00 361.78 125.00 361.20 C130.00 360.62 132.50 360.20 140.00 359.40 C147.50 358.60 161.67 357.17 170.00 356.40 C178.33 355.63 184.67 355.25 190.00 354.80 C195.33 354.35 196.17 354.28 202.00 353.70 C207.83 353.12 217.00 352.18 225.00 351.30 C233.00 350.42 242.50 349.43 250.00 348.40 C257.50 347.37 265.00 346.02 270.00 345.10 C275.00 344.18 276.67 343.95 280.00 342.90 C283.33 341.85 287.50 340.15 290.00 338.80 C292.50 337.45 293.67 336.18 295.00 334.80 C296.33 333.42 297.28 332.22 298.00 330.50 C298.72 328.78 298.93 327.25 299.30 324.50 C299.67 321.75 299.90 318.00 300.20 314.00 C300.50 310.00 300.78 305.03 301.10 300.50 C301.42 295.97 301.93 289.08 302.10 286.80" fill="none" stroke="#222" stroke-width="1.3"/>
<path d="M66.60 334.20 C66.63 336.52 66.65 344.83 66.80 348.10 C66.95 351.37 66.88 352.40 67.50 353.80 C68.12 355.20 69.25 355.70 70.50 356.50 C71.75 357.30 73.42 357.93 75.00 358.60 C76.58 359.27 77.67 359.87 80.00 360.50 C82.33 361.13 85.78 361.77 89.00 362.40 C92.22 363.03 95.80 363.85 99.30 364.30 C102.80 364.75 105.72 364.68 110.00 365.10 C114.28 365.52 120.00 366.28 125.00 366.80 C130.00 367.32 132.50 367.53 140.00 368.20 C147.50 368.87 160.00 369.95 170.00 370.80 C180.00 371.65 190.00 372.38 200.00 373.30 C210.00 374.22 220.00 375.28 230.00 376.30 C240.00 377.32 253.33 378.62 260.00 379.40 C266.67 380.18 266.67 380.32 270.00 381.00 C273.33 381.68 276.67 382.48 280.00 383.50 C283.33 384.52 287.50 386.00 290.00 387.10 C292.50 388.20 293.67 389.02 295.00 390.10 C296.33 391.18 297.25 392.27 298.00 393.60 C298.75 394.93 299.08 395.60 299.50 398.10 C299.92 400.60 300.17 403.90 300.50 408.60 C300.83 413.30 301.23 420.45 301.50 426.30 C301.77 432.15 302.00 440.80 302.10 443.70" fill="none" stroke="#222" stroke-width="1.3"/>
<line x1="301.00" y1="286.80" x2="303.20" y2="286.80" stroke="#222" stroke-width="1.20"/>
<line x1="301.50" y1="443.60" x2="303.50" y2="443.60" stroke="#222" stroke-width="1.20"/>
<line x1="394.50" y1="256.00" x2="394.50" y2="459.70" stroke="#505050" stroke-width="1.30"/>
<line x1="394.60" y1="256.00" x2="671.30" y2="256.00" stroke="#a0a0a0" stroke-width="2.00"/>
<line x1="394.60" y1="459.20" x2="671.30" y2="459.20" stroke="#8a8a8a" stroke-width="1.80"/>
<line x1="671.50" y1="256.00" x2="671.50" y2="459.20" stroke="#505050" stroke-width="1.30"/>
<line x1="392.60" y1="459.38" x2="394.60" y2="459.38" stroke="#333" stroke-width="1.00"/>
<line x1="392.60" y1="444.84" x2="394.60" y2="444.84" stroke="#333" stroke-width="1.00"/>
<line x1="391.10" y1="430.30" x2="394.60" y2="430.30" stroke="#333" stroke-width="1.00"/>
<text x="388.40" y="433.90" font-size="11.30" text-anchor="end">-0.5</text>
<line x1="392.60" y1="415.76" x2="394.60" y2="415.76" stroke="#333" stroke-width="1.00"/>
<line x1="392.60" y1="401.22" x2="394.60" y2="401.22" stroke="#333" stroke-width="1.00"/>
<line x1="392.60" y1="386.68" x2="394.60" y2="386.68" stroke="#333" stroke-width="1.00"/>
<line x1="392.60" y1="372.14" x2="394.60" y2="372.14" stroke="#333" stroke-width="1.00"/>
<line x1="391.10" y1="357.60" x2="394.60" y2="357.60" stroke="#333" stroke-width="1.00"/>
<text x="388.40" y="361.20" font-size="11.30" text-anchor="end">0.0</text>
<line x1="392.60" y1="343.06" x2="394.60" y2="343.06" stroke="#333" stroke-width="1.00"/>
<line x1="392.60" y1="328.52" x2="394.60" y2="328.52" stroke="#333" stroke-width="1.00"/>
<line x1="392.60" y1="313.98" x2="394.60" y2="313.98" stroke="#333" stroke-width="1.00"/>
<line x1="392.60" y1="299.44" x2="394.60" y2="299.44" stroke="#333" stroke-width="1.00"/>
<line x1="391.10" y1="284.90" x2="394.60" y2="284.90" stroke="#333" stroke-width="1.00"/>
<text x="388.40" y="288.50" font-size="11.30" text-anchor="end">0.5</text>
<line x1="392.60" y1="270.36" x2="394.60" y2="270.36" stroke="#333" stroke-width="1.00"/>
<line x1="392.60" y1="255.82" x2="394.60" y2="255.82" stroke="#333" stroke-width="1.00"/>
<line x1="394.60" y1="459.20" x2="394.60" y2="461.20" stroke="#333" stroke-width="1.00"/>
<line x1="417.66" y1="459.20" x2="417.66" y2="462.70" stroke="#333" stroke-width="1.00"/>
<line x1="440.72" y1="459.20" x2="440.72" y2="461.20" stroke="#333" stroke-width="1.00"/>
<line x1="463.77" y1="459.20" x2="463.77" y2="461.20" stroke="#333" stroke-width="1.00"/>
<line x1="486.83" y1="459.20" x2="486.83" y2="461.20" stroke="#333" stroke-width="1.00"/>
<line x1="509.89" y1="459.20" x2="509.89" y2="461.20" stroke="#333" stroke-width="1.00"/>
<line x1="532.95" y1="459.20" x2="532.95" y2="462.70" stroke="#333" stroke-width="1.00"/>
<line x1="556.01" y1="459.20" x2="556.01" y2="461.20" stroke="#333" stroke-width="1.00"/>
<line x1="579.07" y1="459.20" x2="579.07" y2="461.20" stroke="#333" stroke-width="1.00"/>
<line x1="602.12" y1="459.20" x2="602.12" y2="461.20" stroke="#333" stroke-width="1.00"/>
<line x1="625.18" y1="459.20" x2="625.18" y2="461.20" stroke="#333" stroke-width="1.00"/>
<line x1="648.24" y1="459.20" x2="648.24" y2="462.70" stroke="#333" stroke-width="1.00"/>
<line x1="671.30" y1="459.20" x2="671.30" y2="461.20" stroke="#333" stroke-width="1.00"/>
<text x="401.40" y="276.80" font-size="18.30" text-anchor="start" class="b">(d)</text>
<text class="b" transform="translate(364.00 361.90) rotate(-90)" x="0" y="0" font-size="18.00" text-anchor="middle" textLength="87.0" lengthAdjust="spacingAndGlyphs">Voltage (V)</text>
<text transform="translate(532.9 488.9) scale(1 0.93)" class="b" font-size="18" text-anchor="middle">dO/dV</text>
<path d="M524.6 485.6 L529.8 489.6" stroke="#000" stroke-width="1.7"/>
<path d="M533.70 284.70 C533.83 287.25 534.25 294.45 534.50 300.00 C534.75 305.55 534.87 313.75 535.20 318.00 C535.53 322.25 535.55 323.45 536.50 325.50 C537.45 327.55 538.98 328.97 540.90 330.30 C542.82 331.63 545.28 332.52 548.00 333.50 C550.72 334.48 553.70 335.40 557.20 336.20 C560.70 337.00 564.92 337.68 569.00 338.30 C573.08 338.92 577.37 339.40 581.70 339.90 C586.03 340.40 590.83 340.82 595.00 341.30 C599.17 341.78 602.80 342.25 606.70 342.80 C610.60 343.35 615.18 343.95 618.40 344.60 C621.62 345.25 624.15 346.08 626.00 346.70 C627.85 347.32 629.42 347.77 629.50 348.30 C629.58 348.83 627.68 349.35 626.50 349.90 C625.32 350.45 624.73 350.97 622.40 351.60 C620.07 352.23 617.07 352.97 612.50 353.70 C607.93 354.43 600.75 355.33 595.00 356.00 C589.25 356.67 583.62 357.12 578.00 357.70 C572.38 358.28 565.97 358.87 561.30 359.50 C556.63 360.13 553.40 360.82 550.00 361.50 C546.60 362.18 543.62 362.92 540.90 363.60 C538.18 364.28 534.90 365.27 533.70 365.60" fill="none" stroke="#1a1a1a" stroke-width="1.3"/>
<path d="M532.30 347.00 C531.25 347.10 527.77 347.42 526.00 347.60 C524.23 347.78 523.37 347.77 521.70 348.10 C520.03 348.43 517.85 349.12 516.00 349.60 C514.15 350.08 513.27 350.45 510.60 351.00 C507.93 351.55 503.68 352.30 500.00 352.90 C496.32 353.50 493.50 353.98 488.50 354.60 C483.50 355.22 475.53 356.02 470.00 356.60 C464.47 357.18 459.97 357.68 455.30 358.10 C450.63 358.52 445.65 358.82 442.00 359.10 C438.35 359.38 436.78 359.42 433.40 359.80 C430.02 360.18 424.63 360.93 421.70 361.40 C418.77 361.87 416.28 362.17 415.80 362.60 C415.32 363.03 417.82 363.62 418.80 364.00 C419.78 364.38 420.25 364.55 421.70 364.90 C423.15 365.25 425.07 365.72 427.50 366.10 C429.93 366.48 432.55 366.78 436.30 367.20 C440.05 367.62 443.15 367.87 450.00 368.60 C456.85 369.33 469.90 370.73 477.40 371.60 C484.90 372.47 490.20 373.18 495.00 373.80 C499.80 374.42 502.87 374.77 506.20 375.30 C509.53 375.83 512.42 376.37 515.00 377.00 C517.58 377.63 519.78 378.30 521.70 379.10 C523.62 379.90 525.25 380.65 526.50 381.80 C527.75 382.95 528.58 384.30 529.20 386.00 C529.82 387.70 529.93 389.17 530.20 392.00 C530.47 394.83 530.60 398.83 530.80 403.00 C531.00 407.17 531.20 412.40 531.40 417.00 C531.60 421.60 531.90 428.33 532.00 430.60" fill="none" stroke="#1a1a1a" stroke-width="1.3"/>
</svg>
</body></html>
